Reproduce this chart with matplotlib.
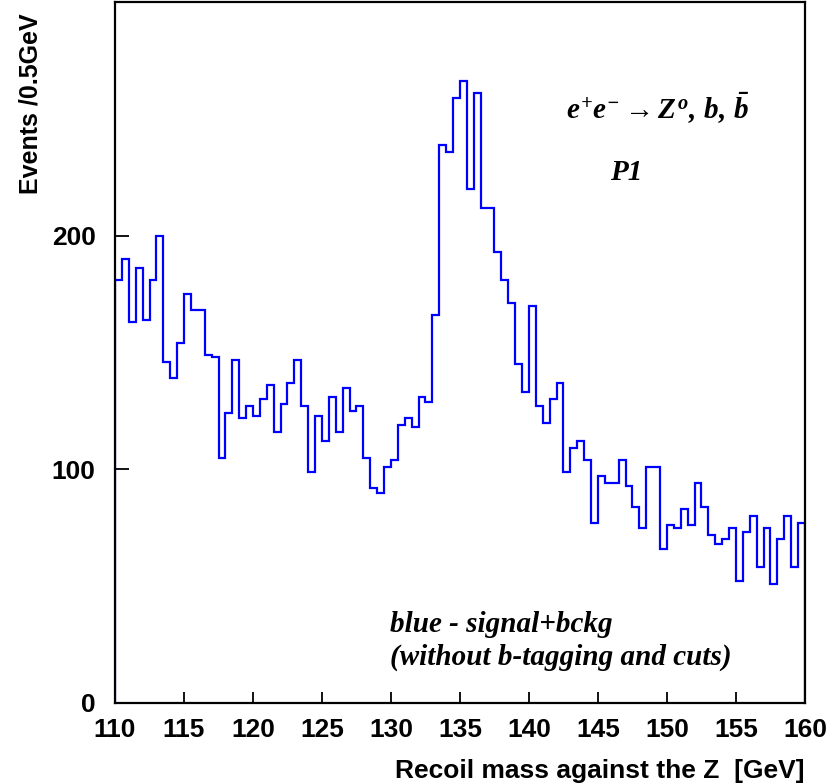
import numpy as np
import matplotlib.pyplot as plt

# -----------------------------------
# Data: events per 0.5 GeV bin, 110-160 GeV
# -----------------------------------
bin_lo = 110.0
bin_hi = 160.0
bin_width = 0.5

events = [
    181, 190, 163, 186, 164, 181, 200, 146, 139, 154,
    175, 168, 168, 149, 148, 105, 124, 147, 122, 127,
    123, 130, 136, 116, 128, 137, 147, 127, 99, 123,
    112, 131, 116, 135, 125, 127, 105, 92, 90, 101,
    104, 119, 122, 118, 131, 129, 166, 239, 236, 259,
    266, 220, 261, 212, 212, 193, 181, 171, 145, 133,
    170, 127, 120, 130, 137, 99, 109, 112, 104, 77,
    97, 94, 94, 104, 93, 84, 75, 101, 101, 66,
    76, 75, 83, 76, 94, 84, 72, 68, 70, 75,
    52, 73, 80, 58, 75, 51, 70, 80, 58, 77,
]

x_ticks = [110, 115, 120, 125, 130, 135, 140, 145, 150, 155, 160]
y_ticks = [0, 100, 200]

edges = np.arange(bin_lo, bin_hi + bin_width / 2, bin_width)

# -----------------------------------
# Fonts
# -----------------------------------
plt.rcParams["font.family"] = ["Liberation Sans", "DejaVu Sans"]
plt.rcParams["mathtext.fontset"] = "custom"
plt.rcParams["mathtext.rm"] = "Liberation Serif:italic:bold"
plt.rcParams["mathtext.it"] = "Liberation Serif:italic:bold"
plt.rcParams["mathtext.bf"] = "Liberation Serif:italic:bold"

serif_bi = dict(family="Liberation Serif", style="italic", fontweight="bold")

# -----------------------------------
# Plot
# -----------------------------------
fig = plt.figure(figsize=(8.29, 7.84), dpi=100)
ax = fig.add_axes([115 / 829, 1 - 703 / 784, 690 / 829, 701 / 784])

ax.stairs(events, edges, baseline=0, color="#0000ff", linewidth=1.6)

ax.set_xlim(bin_lo, bin_hi)
ax.set_ylim(0, 300)
ax.set_xticks(x_ticks)
ax.set_yticks(y_ticks)
ax.tick_params(axis="both", direction="in", width=1.3, colors="black",
               labelsize=19)
ax.tick_params(axis="x", length=8, pad=11)
ax.tick_params(axis="y", length=10, pad=14)
for lab in ax.get_xticklabels() + ax.get_yticklabels():
    lab.set_fontweight("bold")
for s in ax.spines.values():
    s.set_linewidth(1.6)

ax.set_xlabel("Recoil mass against the Z  [GeV]", fontsize=19,
              fontweight="bold", loc="right", labelpad=12)
ax.set_ylabel("Events /0.5GeV", fontsize=18, fontweight="bold")
ax.yaxis.set_label_coords(-84 / 690, 1 - 11 / 701)
ax.yaxis.label.set_horizontalalignment("right")
ax.yaxis.label.set_verticalalignment("center")

# annotations
ax.text(0.654, 0.833, r"$e^{+}e^{-} \rightarrow Z^{o},\, b,\, \bar{b}$",
        transform=ax.transAxes, fontsize=21, va="baseline")
ax.text(0.717, 0.746, "P1", transform=ax.transAxes, fontsize=21,
        va="baseline", **serif_bi)
ax.text(0.399, 0.101, "blue - signal+bckg", transform=ax.transAxes,
        fontsize=21, va="baseline", **serif_bi)
ax.text(0.399, 0.054, "(without b-tagging and cuts)", transform=ax.transAxes,
        fontsize=21, va="baseline", **serif_bi)

plt.savefig("out.png", dpi=100)
